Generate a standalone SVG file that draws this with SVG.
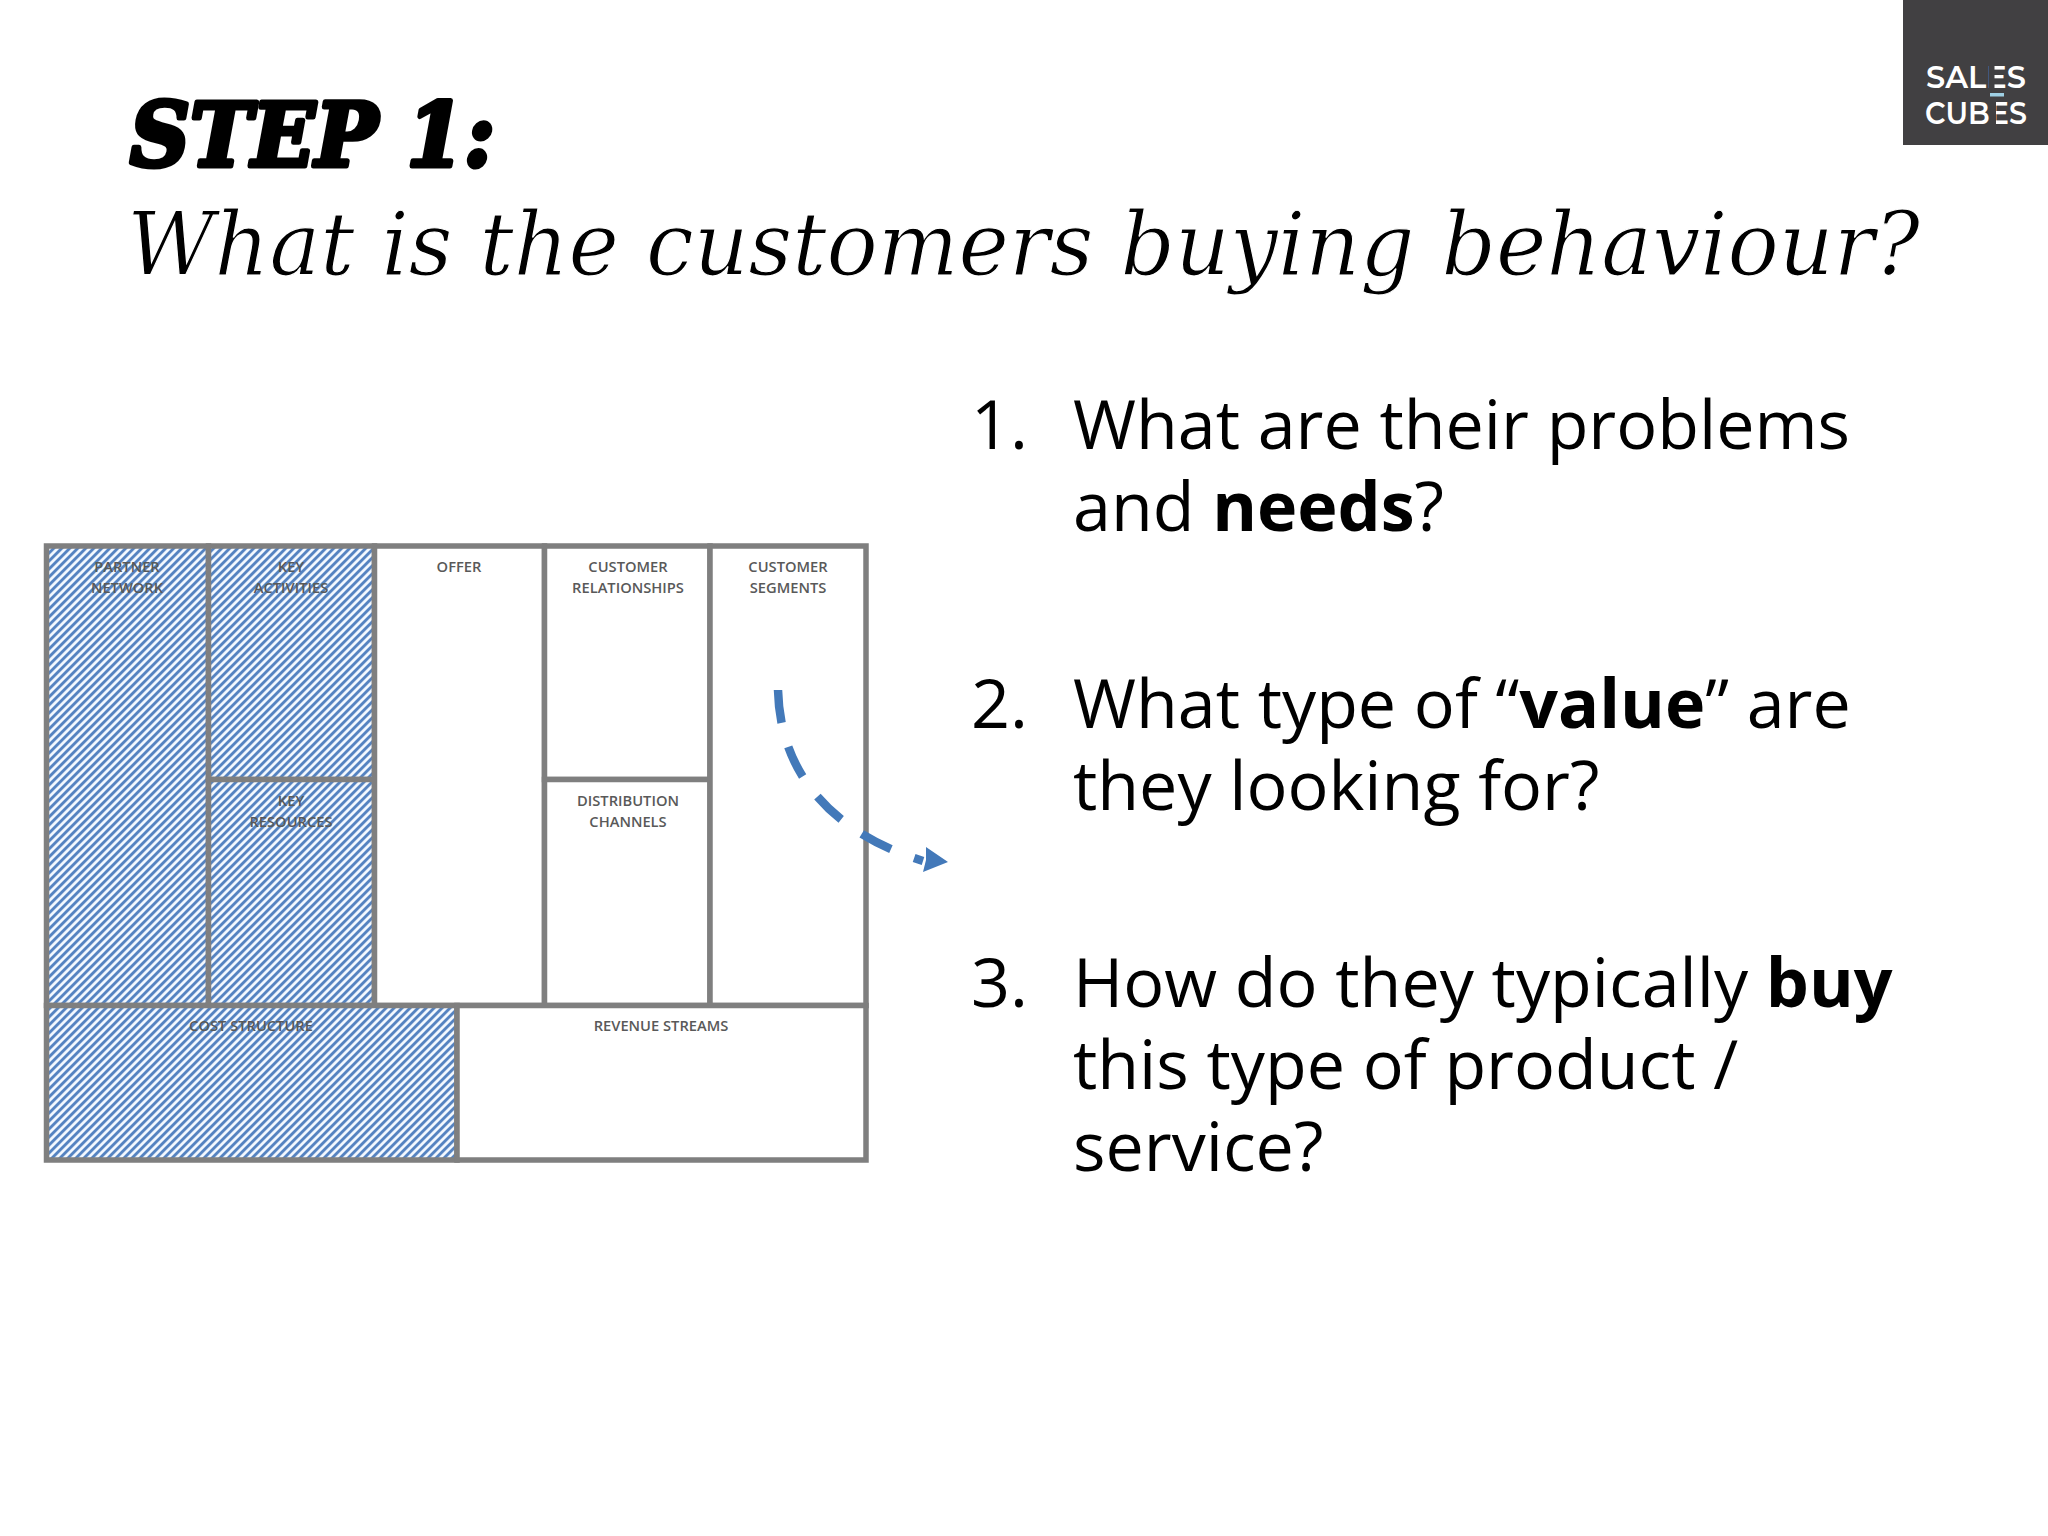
<svg xmlns="http://www.w3.org/2000/svg" width="2048" height="1536" viewBox="0 0 2048 1536">
<style>
.cell{stroke:#7f7f7f;stroke-width:5.500;fill:#fff}
.hatch{fill:url(#hatch)}
.lab{font-family:"Open Sans","Liberation Sans",sans-serif;font-weight:600;font-size:14.700px;fill:#595959;text-anchor:middle}
.body{font-family:"Open Sans","Liberation Sans",sans-serif;font-size:68.200px;fill:#000}
.body tspan{font-weight:700}
.logo{font-family:"Montserrat","Open Sans","Liberation Sans",sans-serif;font-size:30.500px;font-weight:600;fill:#fff;text-anchor:middle}
</style>
<defs>
<pattern id="hatch" width="5.657" height="5.657" patternUnits="userSpaceOnUse" patternTransform="rotate(-45)">
<rect width="5.657" height="5.657" fill="#f4f9ff"/>
<rect width="5.657" height="2.900" fill="#5583c1"/>
</pattern>
<marker id="head" markerUnits="userSpaceOnUse" markerWidth="30" markerHeight="30" refX="0" refY="14" orient="0">
<path d="M3 0L25 15L0 25L3 13Z" fill="#4379b9"/>
</marker>
</defs>
<rect width="2048" height="1536" fill="#fff"/>
<g id="logo">
<rect x="1903" y="0" width="145" height="145" fill="#414042"/>
<text class="logo" x="1976" y="88">SALES</text>
<text class="logo" x="1976" y="124" textLength="102" lengthAdjust="spacingAndGlyphs">CUBES</text>
<rect x="1989" y="62" width="5.500" height="29" fill="#414042"/>
<rect x="1990.500" y="99" width="5.500" height="29" fill="#414042"/>
<rect x="1990" y="93" width="14" height="3.500" fill="#9fd0e4"/>
</g>
<g id="title">
<text x="130" y="166" font-family="'DejaVu Serif',serif" font-weight="700" font-style="italic" font-size="88" fill="#000" stroke="#000" stroke-width="5" stroke-linejoin="round" textLength="365" lengthAdjust="spacingAndGlyphs">STEP 1:</text>
<text x="127" y="275" font-family="'DejaVu Serif',serif" font-style="italic" font-size="88" fill="#000" stroke="#fff" stroke-width="1.200" textLength="1793" lengthAdjust="spacingAndGlyphs">What is the customers buying behaviour?</text>
</g>
<g id="canvas">
<g id="partner-network"><rect class="cell hatch" x="46.500" y="546" width="162" height="459.500"/><text class="lab" x="127" y="572">PARTNER</text><text class="lab" x="127" y="592.500">NETWORK</text></g>
<g id="key-activities"><rect class="cell hatch" x="208.500" y="546" width="166" height="233.500"/><text class="lab" x="291" y="572">KEY</text><text class="lab" x="291" y="592.500">ACTIVITIES</text></g>
<g id="key-resources"><rect class="cell hatch" x="208.500" y="779.500" width="166" height="226"/><text class="lab" x="291" y="806">KEY</text><text class="lab" x="291" y="826.500">RESOURCES</text></g>
<g id="offer"><rect class="cell" x="374.500" y="546" width="170" height="459.500"/><text class="lab" x="459" y="572">OFFER</text></g>
<g id="customer-relationships"><rect class="cell" x="544.500" y="546" width="165.500" height="233.500"/><text class="lab" x="628" y="572">CUSTOMER</text><text class="lab" x="628" y="592.500">RELATIONSHIPS</text></g>
<g id="distribution-channels"><rect class="cell" x="544.500" y="779.500" width="165.500" height="226"/><text class="lab" x="628" y="806">DISTRIBUTION</text><text class="lab" x="628" y="826.500">CHANNELS</text></g>
<g id="customer-segments"><rect class="cell" x="710" y="546" width="156" height="459.500"/><text class="lab" x="788" y="572">CUSTOMER</text><text class="lab" x="788" y="592.500">SEGMENTS</text></g>
<g id="cost-structure"><rect class="cell hatch" x="46.500" y="1005.500" width="410.500" height="154.500"/><text class="lab" x="251" y="1031">COST STRUCTURE</text></g>
<g id="revenue-streams"><rect class="cell" x="457" y="1005.500" width="409" height="154.500"/><text class="lab" x="661" y="1031">REVENUE STREAMS</text></g>
</g>
<g id="connectors">
<path d="M778 690C780 772 830 832 923 861" fill="none" stroke="#4379b9" stroke-width="8.500" stroke-dasharray="33 25" marker-end="url(#head)"/>
</g>
<g id="list">
<text class="body" x="971" y="449">1.</text>
<text class="body" x="1073" y="449">What are their problems</text>
<text class="body" x="1073" y="531">and <tspan>needs</tspan>?</text>
<text class="body" x="971" y="728">2.</text>
<text class="body" x="1073" y="728">What type of “<tspan>value</tspan>” are</text>
<text class="body" x="1073" y="810">they looking for?</text>
<text class="body" x="971" y="1007">3.</text>
<text class="body" x="1073" y="1007">How do they typically <tspan>buy</tspan></text>
<text class="body" x="1073" y="1089">this type of product /</text>
<text class="body" x="1073" y="1171">service?</text>
</g>
</svg>
